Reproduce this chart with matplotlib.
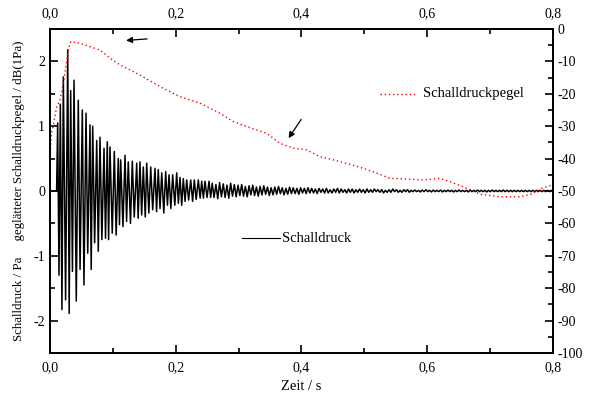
import numpy as np
import matplotlib
matplotlib.use("Agg")
import matplotlib.pyplot as plt
from matplotlib.ticker import MultipleLocator, FuncFormatter

plt.rcParams['font.family'] = ['Liberation Serif', 'DejaVu Serif']
plt.rcParams['axes.unicode_minus'] = False

# Schalldruck: Spitzenwerte (positiv / negativ) der ersten Schwingungen
t_hi = [0.0122, 0.0164, 0.0212, 0.0282, 0.0329, 0.0382, 0.0450, 0.0514, 0.0573, 0.0636,
        0.0679, 0.0743, 0.0795, 0.0859, 0.0911, 0.0954, 0.1023, 0.1086, 0.1124, 0.1193,
        0.1245, 0.1309, 0.1379, 0.1431, 0.1484, 0.1538, 0.1602, 0.1670, 0.1722, 0.1777,
        0.1840, 0.1893, 0.1951, 0.2015, 0.2068, 0.2120, 0.2174, 0.2238, 0.2295, 0.2359,
        0.2413, 0.2465, 0.2529]
p_hi = [1.05, 1.34, 1.76, 2.18, 1.55, 1.71, 1.40, 1.25, 1.20, 1.02,
        1.00, 0.78, 0.83, 0.66, 0.76, 0.68, 0.61, 0.50, 0.48, 0.55,
        0.45, 0.46, 0.43, 0.45, 0.37, 0.43, 0.37, 0.35, 0.33, 0.28,
        0.30, 0.25, 0.25, 0.28, 0.21, 0.19, 0.17, 0.17, 0.17, 0.17,
        0.15, 0.15, 0.15]
t_lo = [0.0143, 0.0190, 0.0248, 0.0305, 0.0357, 0.0418, 0.0478, 0.0540, 0.0600, 0.0655,
        0.0710, 0.0768, 0.0825, 0.0883, 0.0932, 0.0990, 0.1052, 0.1105, 0.1160, 0.1218,
        0.1280, 0.1340, 0.1402, 0.1458, 0.1515, 0.1572, 0.1633, 0.1695, 0.1750, 0.1810,
        0.1868, 0.1922, 0.1985, 0.2042, 0.2095, 0.2148, 0.2205, 0.2268, 0.2325, 0.2388,
        0.2440, 0.2498, 0.2555]
p_lo = [-1.30, -1.83, -1.68, -1.89, -1.24, -1.70, -1.21, -1.45, -0.96, -1.21,
        -0.80, -0.93, -0.75, -0.73, -0.75, -0.65, -0.68, -0.52, -0.55, -0.47,
        -0.50, -0.40, -0.42, -0.37, -0.40, -0.34, -0.29, -0.32, -0.27, -0.34,
        -0.22, -0.27, -0.22, -0.19, -0.22, -0.16, -0.14, -0.16, -0.13, -0.11,
        -0.11, -0.10, -0.10]

# Ausklingen 0,258 s ... 0,8 s (Abtastwerte)
tail = [0.12, -0.10, 0.10, -0.12, 0.13, -0.09, 0.11, -0.10, 0.09, -0.11, 0.12, -0.08, 0.10, -0.09,
        0.09, -0.07, 0.10, -0.08, 0.07, -0.09, 0.08, -0.06, 0.09, -0.07, 0.06, -0.08, 0.07, -0.06,
        0.08, -0.05, 0.06, -0.07, 0.05, -0.06,
        0.06, -0.05, 0.07, -0.04, 0.05, -0.06, 0.04, -0.05, 0.06, -0.04, 0.05, -0.04, 0.04, -0.05,
        0.05, -0.03, 0.04, -0.04, 0.05, -0.03,
        0.04, -0.03, 0.03, -0.04, 0.04, -0.02, 0.03, -0.03, 0.04, -0.03, 0.02, -0.03, 0.03, -0.02,
        0.04, -0.03, 0.03, -0.02, 0.02, -0.03, 0.03, -0.02, 0.03, -0.03, 0.02, -0.02, 0.03, -0.02,
        0.02, -0.03, 0.03, -0.02, 0.02, -0.02, 0.03, -0.01, 0.02, -0.02, 0.02, -0.03, 0.01, -0.02,
        0.02, -0.02, 0.03, -0.01, 0.02, -0.02, 0.01, -0.02, 0.02, -0.01, 0.02, -0.02, 0.01, -0.01,
        0.015, -0.01, 0.01, -0.015, 0.015, -0.01, 0.02, -0.01, 0.01, -0.015, 0.015, -0.01, 0.01, -0.01,
        0.015, -0.015, 0.01, -0.01, 0.015, -0.01, 0.01, -0.015, 0.01, -0.01, 0.015, -0.01, 0.01, -0.01,
        0.01, -0.015, 0.015, -0.01, 0.01, -0.01, 0.015, -0.01, 0.01, -0.01, 0.01, -0.015, 0.01, -0.01,
        0.015, -0.01, 0.01, -0.01, 0.01, -0.01, 0.015, -0.01, 0.01, -0.01, 0.01, -0.01, 0.01, -0.01,
        0.01, -0.01, 0.01, -0.01, 0.01, -0.01, 0.01, -0.01, 0.01, -0.01, 0.01, -0.01, 0.01, -0.01,
        0.01, -0.01, 0.01, -0.01, 0.01, -0.01]
tail_start, tail_end = 0.258, 0.8

# Schalldruckpegel (geglättet), dB
t_spl = [0.000, 0.0027, 0.0053, 0.0107, 0.0159, 0.0212, 0.0266, 0.0291, 0.0329, 0.0477,
         0.0795, 0.0954, 0.1113, 0.143, 0.175, 0.2068, 0.2386, 0.2704, 0.2916, 0.3128,
         0.3446, 0.3658, 0.3870, 0.408, 0.4294, 0.4506, 0.4719, 0.4983, 0.5196, 0.5408,
         0.5674, 0.5939, 0.620, 0.636, 0.657, 0.684, 0.716, 0.747, 0.765, 0.782, 0.800]
spl = [-38.3, -32.0, -29.6, -24.0, -21.9, -16.8, -10.1, -6.5, -3.9, -4.4,
       -6.5, -9.0, -11.1, -14.2, -17.8, -20.9, -22.9, -26.0, -28.6, -30.1,
       -32.2, -35.3, -36.8, -37.3, -39.4, -40.4, -41.5, -43.0, -44.5, -46.1,
       -46.3, -46.6, -46.1, -47.1, -48.7, -51.0, -51.8, -51.8, -51.0, -49.2, -48.1]

# Signal zusammensetzen
t_main = [0.0, 0.0105] + [v for pair in zip(t_hi, t_lo) for v in pair]
p_main = [0.0, 0.0] + [v for pair in zip(p_hi, p_lo) for v in pair]
t_tail = np.linspace(tail_start, tail_end, len(tail))
t_sig = np.concatenate([t_main, t_tail])
p_sig = np.concatenate([p_main, tail])

fig = plt.figure(figsize=(5.91, 3.97), dpi=100)
ax = fig.add_axes([0.0846, 0.1108, 0.8511, 0.8162])
ax2 = ax.twinx()

ax.plot(t_sig, p_sig, color='black', lw=1.1)
ax2.plot(t_spl, spl, color='red', lw=1.0, ls=(0, (1, 2)))

ax.set_xlim(0, 0.8)
ax.set_ylim(-2.5, 2.5)
ax2.set_ylim(-100, 0)

comma = FuncFormatter(lambda v, pos: ('%.1f' % v).replace('.', ','))
ax.xaxis.set_major_locator(MultipleLocator(0.2))
ax.xaxis.set_minor_locator(MultipleLocator(0.1))
ax.xaxis.set_major_formatter(comma)
ax.yaxis.set_major_locator(MultipleLocator(1))
ax.yaxis.set_minor_locator(MultipleLocator(0.5))
ax2.yaxis.set_major_locator(MultipleLocator(10))
ax2.yaxis.set_minor_locator(MultipleLocator(5))

for a in (ax, ax2):
    for s in a.spines.values():
        s.set_linewidth(1.4)
ax.tick_params(which='both', direction='in', top=True, labeltop=True, labelsize=10, width=1.2)
ax.tick_params(axis='x', which='major', pad=6)
ax.tick_params(which='major', length=6)
ax.tick_params(which='minor', length=3.5)
ax2.tick_params(which='both', direction='in', labelsize=10, width=1.2)
ax2.tick_params(which='major', length=6)
ax2.tick_params(which='minor', length=3.5)

ax.set_xlabel('Zeit / s', fontsize=10.5, labelpad=4)
ax.set_ylabel('Schalldruck / Pa     geglätteter Schalldruckpegel / dB(1Pa)', fontsize=9.3, labelpad=6)

# Legendeneinträge
ax2.plot([0.525, 0.582], [-20, -20], color='red', lw=1.0, ls=(0, (1, 2)))
ax2.text(0.593, -20, 'Schalldruckpegel', fontsize=10.5, va='center')
ax.plot([0.305, 0.366], [-0.73, -0.73], color='black', lw=0.8)
ax.text(0.369, -0.73, 'Schalldruck', fontsize=10.5, va='center')

# Pfeile
ax.annotate('', xy=(0.1166, 2.32), xytext=(0.159, 2.35),
            arrowprops=dict(arrowstyle='-|>', color='black', lw=0.9, mutation_scale=9))
ax.annotate('', xy=(0.377, 0.78), xytext=(0.402, 1.14),
            arrowprops=dict(arrowstyle='-|>', color='black', lw=0.9, mutation_scale=9))

fig.savefig('out.png', dpi=100)
